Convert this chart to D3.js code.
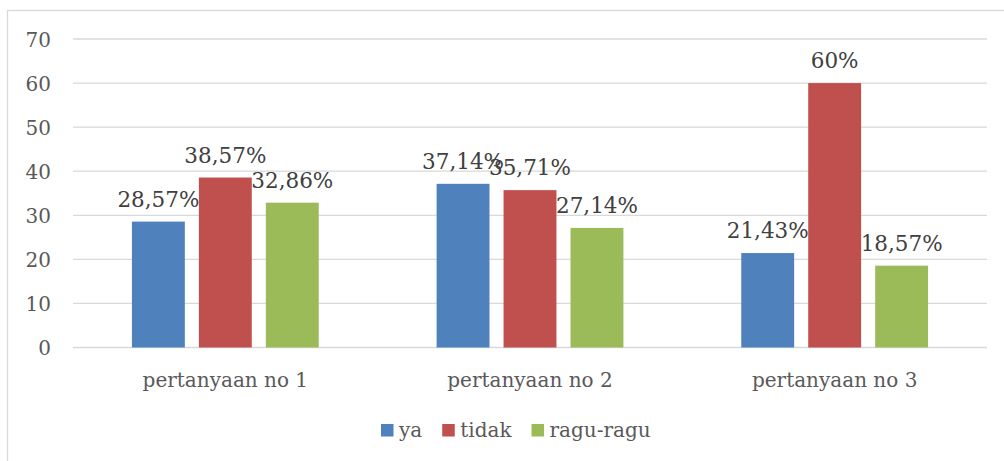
<!DOCTYPE html>
<html>
<head>
<meta charset="utf-8">
<script src="https://cdn.jsdelivr.net/npm/d3@7"></script>
<style>
  body { margin: 0; background: #fff; }
  text { font-family: "DejaVu Serif", serif; }
</style>
</head>
<body>
<svg id="chart" width="1004" height="461"></svg>
<script>
const categories = ["pertanyaan no 1", "pertanyaan no 2", "pertanyaan no 3"];
const seriesNames = ["ya", "tidak", "ragu-ragu"];
const ya = [28.57, 37.14, 21.43];
const tidak = [38.57, 35.71, 60];
const raguRagu = [32.86, 27.14, 18.57];
const labelsYa = ["28,57%", "37,14%", "21,43%"];
const labelsTidak = ["38,57%", "35,71%", "60%"];
const labelsRagu = ["32,86%", "27,14%", "18,57%"];
const yTicks = [0, 10, 20, 30, 40, 50, 60, 70];
const colors = ["#4f81bd", "#c0504d", "#9bbb59"];

const values = [ya, tidak, raguRagu];
const labels = [labelsYa, labelsTidak, labelsRagu];

const svg = d3.select("#chart");

// outer frame (bottom and right run off the picture)
svg.append("rect")
  .attr("x", 7.5).attr("y", 10.5)
  .attr("width", 1010).attr("height", 470)
  .attr("fill", "#fff").attr("stroke", "#d9d9d9").attr("stroke-width", 1.3);

const y = d3.scaleLinear().domain([0, 70]).range([347.5, 39]);
const x0 = d3.scaleBand().domain(categories).range([73, 987]);
const x1 = d3.scaleBand().domain(seriesNames).range([0, x0.bandwidth()])
  .paddingInner(0.21).paddingOuter(0.88);

// gridlines
svg.append("g").selectAll("line").data(yTicks).join("line")
  .attr("x1", 73).attr("x2", 987)
  .attr("y1", d => y(d)).attr("y2", d => y(d))
  .attr("stroke", "#d9d9d9").attr("stroke-width", 1.3);

// y axis labels
const yAxis = d3.axisLeft(y).tickValues(yTicks).tickSize(0).tickPadding(0);
const gy = svg.append("g").attr("transform", "translate(51,0)").call(yAxis);
gy.select(".domain").remove();
gy.selectAll("text")
  .attr("font-family", "DejaVu Serif").attr("font-size", 20)
  .attr("fill", "#595959").attr("dy", "0.36em");

// x axis labels
const xAxis = d3.axisBottom(x0).tickSize(0).tickPadding(0);
const gx = svg.append("g").attr("transform", "translate(0,387)").call(xAxis);
gx.select(".domain").remove();
gx.selectAll("text")
  .attr("font-family", "DejaVu Serif").attr("font-size", 20)
  .attr("fill", "#595959").attr("dy", 0);

// bars + labels
const rows = [];
categories.forEach((c, i) => {
  seriesNames.forEach((s, j) => {
    rows.push({ cat: c, series: s, value: values[j][i], label: labels[j][i], color: colors[j] });
  });
});

svg.append("g").selectAll("rect").data(rows).join("rect")
  .attr("x", d => x0(d.cat) + x1(d.series))
  .attr("y", d => y(d.value))
  .attr("width", x1.bandwidth())
  .attr("height", d => y(0) - y(d.value))
  .attr("fill", d => d.color);

svg.append("g").selectAll("text").data(rows).join("text")
  .attr("x", d => x0(d.cat) + x1(d.series) + x1.bandwidth() / 2)
  .attr("y", d => y(d.value) - 15)
  .attr("text-anchor", "middle")
  .attr("font-size", 21.5)
  .attr("fill", "#404040")
  .text(d => d.label);

// legend
const legend = svg.append("g").attr("transform", "translate(381,0)");
let lx = 0;
seriesNames.forEach((s, j) => {
  legend.append("rect")
    .attr("x", lx).attr("y", 424)
    .attr("width", 12.5).attr("height", 12.5)
    .attr("fill", colors[j]);
  const t = legend.append("text")
    .attr("x", lx + 18).attr("y", 437)
    .attr("font-size", 20).attr("fill", "#595959")
    .text(s);
  lx += 18 + t.node().getComputedTextLength() + 20;
});
</script>
</body>
</html>
